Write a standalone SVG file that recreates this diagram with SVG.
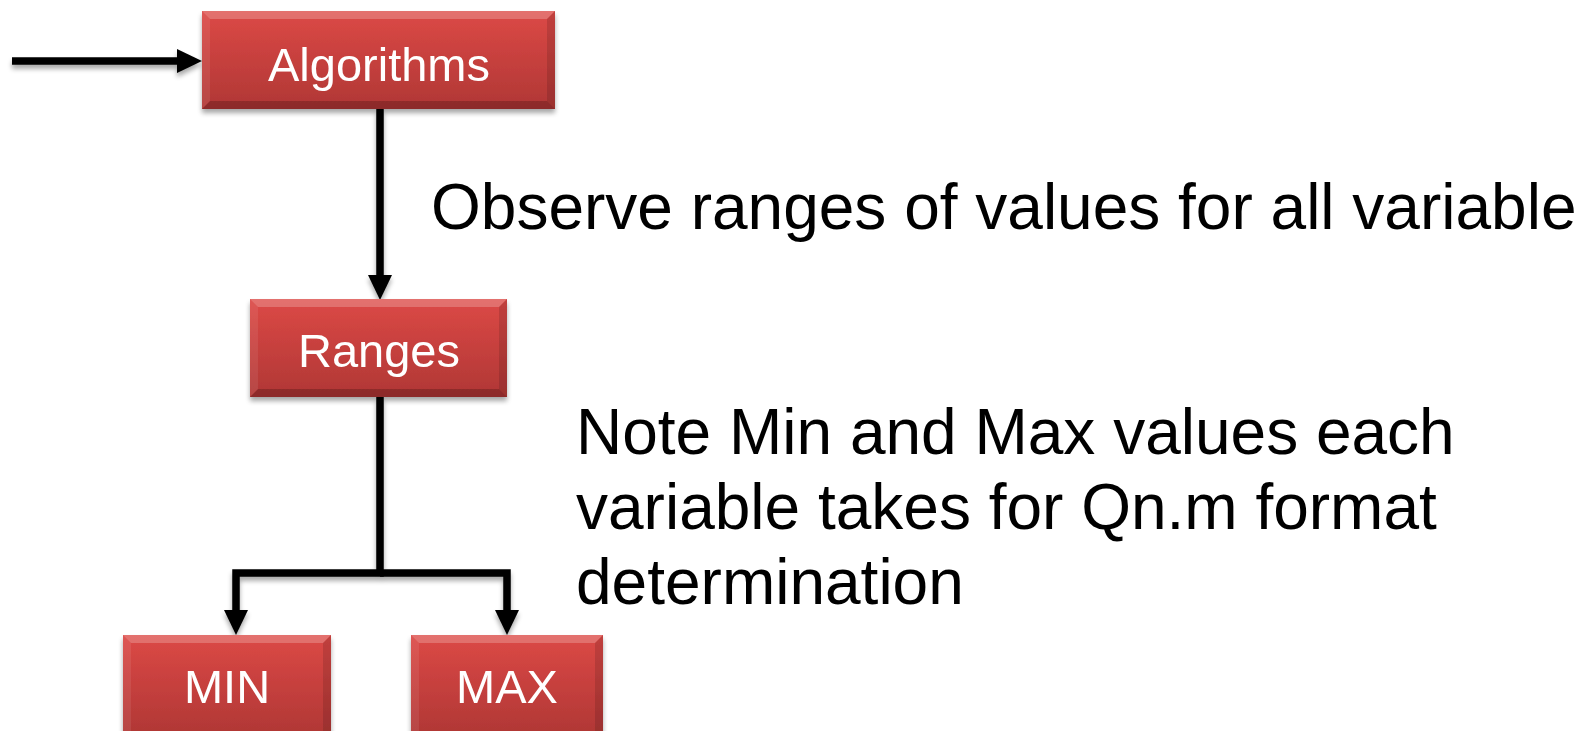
<svg xmlns="http://www.w3.org/2000/svg" width="1579" height="731" viewBox="0 0 1579 731">
  <style>
    .box-label { font-family: "Liberation Sans", Arial, sans-serif; font-size: 47px; fill: #ffffff; text-anchor: middle; }
    .note { font-family: "Liberation Sans", Arial, sans-serif; font-size: 64px; fill: #000000; }
    .wire { fill: none; stroke: #000000; stroke-width: 7.5; stroke-linejoin: miter; }
    .bevel-top { fill: #ffffff; fill-opacity: 0.22; }
    .bevel-left { fill: #ffffff; fill-opacity: 0.08; }
    .bevel-right { fill: #000000; fill-opacity: 0.12; }
    .bevel-bottom { fill: #000000; fill-opacity: 0.2; }
  </style>
  <defs>
    <linearGradient id="redFill" x1="0" y1="0" x2="0" y2="1">
      <stop offset="0" stop-color="#dc4946"/>
      <stop offset="1" stop-color="#b03735"/>
    </linearGradient>
    <filter id="softShadow" x="-10%" y="-10%" width="120%" height="130%">
      <feGaussianBlur in="SourceAlpha" stdDeviation="2.5"/>
      <feOffset dx="0" dy="4" result="blur"/>
      <feComponentTransfer><feFuncA type="linear" slope="0.35"/></feComponentTransfer>
      <feMerge><feMergeNode/><feMergeNode in="SourceGraphic"/></feMerge>
    </filter>
    <marker id="head" markerUnits="userSpaceOnUse" markerWidth="26" markerHeight="24" refX="1" refY="12" orient="auto">
      <path d="M0,0 L25,12 L0,24 Z" fill="#000000"/>
    </marker>
  </defs>

  <!-- connectors -->
  <g id="connectors" filter="url(#softShadow)">
    <path class="wire" d="M12,61 H178" marker-end="url(#head)"/>
    <path class="wire" d="M380,109 V276" marker-end="url(#head)"/>
    <path class="wire" d="M380,397 V573 H236 V611" marker-end="url(#head)"/>
    <path class="wire" d="M380,573 H507 V611" marker-end="url(#head)"/>
  </g>

  <!-- Algorithms -->
  <g id="node-algorithms" filter="url(#softShadow)">
    <rect x="202" y="11" width="353" height="98" fill="url(#redFill)"/>
    <polygon class="bevel-top" points="202,11 555,11 547,19 210,19"/>
    <polygon class="bevel-left" points="202,11 210,19 210,101 202,109"/>
    <polygon class="bevel-right" points="555,11 555,109 547,101 547,19"/>
    <polygon class="bevel-bottom" points="202,109 210,101 547,101 555,109"/>
    <text class="box-label" x="379" y="81">Algorithms</text>
  </g>

  <!-- Ranges -->
  <g id="node-ranges" filter="url(#softShadow)">
    <rect x="250" y="299" width="257" height="98" fill="url(#redFill)"/>
    <polygon class="bevel-top" points="250,299 507,299 499,307 258,307"/>
    <polygon class="bevel-left" points="250,299 258,307 258,389 250,397"/>
    <polygon class="bevel-right" points="507,299 507,397 499,389 499,307"/>
    <polygon class="bevel-bottom" points="250,397 258,389 499,389 507,397"/>
    <text class="box-label" x="379" y="367">Ranges</text>
  </g>

  <!-- MIN -->
  <g id="node-min" filter="url(#softShadow)">
    <rect x="123" y="635" width="208" height="100" fill="url(#redFill)"/>
    <polygon class="bevel-top" points="123,635 331,635 323,643 131,643"/>
    <polygon class="bevel-left" points="123,635 131,643 131,735 123,735"/>
    <polygon class="bevel-right" points="331,635 331,735 323,735 323,643"/>
    <text class="box-label" x="227" y="703">MIN</text>
  </g>

  <!-- MAX -->
  <g id="node-max" filter="url(#softShadow)">
    <rect x="411" y="635" width="192" height="100" fill="url(#redFill)"/>
    <polygon class="bevel-top" points="411,635 603,635 595,643 419,643"/>
    <polygon class="bevel-left" points="411,635 419,643 419,735 411,735"/>
    <polygon class="bevel-right" points="603,635 603,735 595,735 595,643"/>
    <text class="box-label" x="507" y="703">MAX</text>
  </g>

  <!-- annotations -->
  <g id="notes">
    <text class="note" x="431" y="229">Observe ranges of values for all variable</text>
    <text class="note" x="576" y="454">Note Min and Max values each</text>
    <text class="note" x="576" y="529">variable takes for Qn.m format</text>
    <text class="note" x="576" y="604">determination</text>
  </g>
</svg>
